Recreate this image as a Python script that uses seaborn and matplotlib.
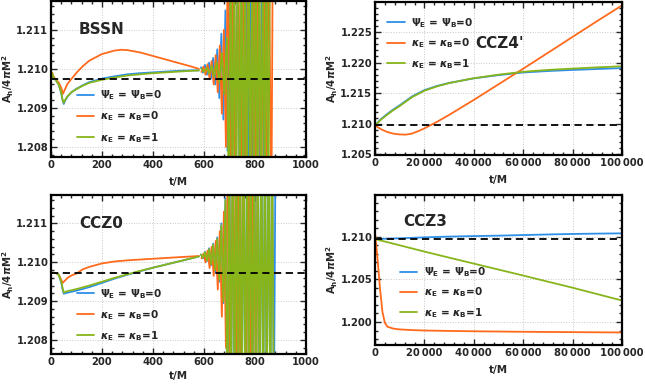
import matplotlib
matplotlib.use("Agg")
import matplotlib.pyplot as plt
from matplotlib.ticker import AutoMinorLocator, MultipleLocator
import seaborn as sns

# ---- data ----
A_REF = 1.20973  # dashed reference level

# BSSN (t/M 0..1000)
bssn_or_t = [0, 5, 10, 20, 30, 40, 47, 55, 65, 80, 100, 125, 150, 200, 250, 275, 300, 350, 400, 450, 500, 550, 580]
bssn_or_a = [1.20982, 1.20990, 1.20980, 1.20972, 1.20965, 1.20952, 1.20936, 1.20948, 1.20962, 1.20974, 1.20990,
             1.21007, 1.21021, 1.21038, 1.21047, 1.21049, 1.21048, 1.21042, 1.21033, 1.21024, 1.21015, 1.21006, 1.21000]
bssn_gr_t = [0, 5, 10, 20, 30, 40, 45, 50, 55, 65, 80, 100, 125, 150, 200, 250, 300, 350, 400, 450, 500, 550, 580]
bssn_gr_a = [1.20982, 1.20988, 1.20978, 1.20970, 1.20960, 1.20940, 1.20922, 1.20913, 1.20920, 1.20930, 1.20940,
             1.20948, 1.20957, 1.20964, 1.20972, 1.20978, 1.20983, 1.20986, 1.20989, 1.20991, 1.20993, 1.20995, 1.20996]
bssn_bl_a = [1.20982, 1.20988, 1.20978, 1.20970, 1.20960, 1.20938, 1.20920, 1.20910, 1.20918, 1.20929, 1.20940,
             1.20949, 1.20958, 1.20966, 1.20975, 1.20981, 1.20986, 1.20989, 1.20991, 1.20993, 1.20995, 1.20996, 1.20996]

bssn_bl_osc_t = [588, 596, 604, 612, 620, 628, 636, 644, 652, 660, 668, 676, 684, 692,
                 700, 708, 716, 724, 732, 740, 748, 756, 764, 772, 780, 788, 796, 804, 812, 820, 828, 836, 844, 852]
bssn_bl_osc_a = [1.21004, 1.20990, 1.21010, 1.20985, 1.21016, 1.20975, 1.21028, 1.20960, 1.21050, 1.20925,
                 1.21090, 1.20870, 1.21150, 1.20790,
                 1.2135, 1.2060, 1.2135, 1.2060, 1.2135, 1.2060, 1.2135, 1.2060, 1.2135, 1.2060,
                 1.2135, 1.2060, 1.2135, 1.2060, 1.2135, 1.2060, 1.2135, 1.2060, 1.2135, 1.2060]
bssn_or_osc_t = [590, 598, 606, 614, 622, 630, 638, 646, 654, 662, 670, 678, 686,
                 694, 704, 714, 724, 734, 744, 754, 764, 774, 784, 794, 804, 814, 824, 834, 844, 854, 864, 870]
bssn_or_osc_a = [1.20992, 1.21006, 1.20985, 1.21012, 1.20975, 1.21020, 1.20960, 1.21035, 1.20940, 1.21060,
                 1.20885, 1.21100, 1.20800,
                 1.2135, 1.2060, 1.2135, 1.2060, 1.2135, 1.2060, 1.2135, 1.2060, 1.2135, 1.2060,
                 1.2135, 1.2060, 1.2135, 1.2060, 1.2135, 1.2060, 1.2135, 1.2060, 1.2135]
bssn_gr_osc_t = [590, 600, 610, 620, 630, 640, 650, 660, 670, 680, 690,
                 698, 705, 712, 719, 726, 733, 740, 747, 754, 761, 768, 775, 782, 789, 796, 803, 810,
                 817, 824, 831, 838, 845, 852, 859]
bssn_gr_osc_a = [1.21000, 1.20992, 1.21003, 1.20988, 1.21008, 1.20980, 1.21018, 1.20965, 1.21040, 1.20935, 1.21080,
                 1.2060, 1.2135, 1.2060, 1.2135, 1.2060, 1.2135, 1.2060, 1.2135, 1.2060, 1.2135, 1.2060,
                 1.2135, 1.2060, 1.2135, 1.2060, 1.2135, 1.2060, 1.2135, 1.2060, 1.2135, 1.2060, 1.2135,
                 1.2060, 1.2135]

# CCZ0 (t/M 0..1000)
ccz0_or_t = [0, 10, 20, 30, 35, 40, 46, 55, 65, 80, 100, 125, 150, 200, 250, 300, 400, 500, 580]
ccz0_or_a = [1.20973, 1.20973, 1.20972, 1.20968, 1.20962, 1.20955, 1.20947, 1.20953, 1.20960, 1.20966, 1.20971,
             1.20982, 1.20988, 1.20997, 1.21002, 1.21005, 1.21009, 1.21013, 1.21016]
ccz0_gr_t = [0, 10, 20, 30, 40, 45, 50, 60, 100, 150, 200, 250, 300, 350, 400, 450, 500, 550, 580]
ccz0_gr_a = [1.20973, 1.20973, 1.20972, 1.20968, 1.20950, 1.20935, 1.20922, 1.20925, 1.20931, 1.20940, 1.20950,
             1.20960, 1.20969, 1.20978, 1.20986, 1.20994, 1.21002, 1.21010, 1.21015]
ccz0_bl_a = [1.20973, 1.20973, 1.20972, 1.20968, 1.20948, 1.20932, 1.20919, 1.20921, 1.20927, 1.20936, 1.20947,
             1.20958, 1.20968, 1.20977, 1.20986, 1.20994, 1.21002, 1.21010, 1.21015]

ccz0_gr_osc_t = [588, 596, 604, 612, 620, 628, 636, 644, 652, 660, 668, 676, 684,
                 692, 699, 706, 713, 720, 727, 734, 741, 748, 755, 762, 769, 776, 783, 790, 797, 804,
                 811, 818, 825, 832, 839, 846, 853, 860, 867, 874]
ccz0_gr_osc_a = [1.21020, 1.21012, 1.21026, 1.21005, 1.21034, 1.20995, 1.21045, 1.20980, 1.21060, 1.20955,
                 1.21095, 1.20900, 1.21160,
                 1.2060, 1.2135, 1.2060, 1.2135, 1.2060, 1.2135, 1.2060, 1.2135, 1.2060, 1.2135, 1.2060,
                 1.2135, 1.2060, 1.2135, 1.2060, 1.2135, 1.2060, 1.2135, 1.2060, 1.2135, 1.2060, 1.2135,
                 1.2060, 1.2135, 1.2060, 1.2135, 1.2060]
ccz0_bl_osc_t = [588, 596, 604, 612, 620, 628, 636, 644, 652, 660, 668, 676, 684,
                 692, 699, 706, 713, 720, 727, 734, 741, 748, 755, 762, 769, 776, 783, 790, 797, 804,
                 811, 818, 825, 832, 839, 846, 853, 860, 867, 874, 881]
ccz0_bl_osc_a = [1.21020, 1.21010, 1.21027, 1.21003, 1.21036, 1.20992, 1.21048, 1.20976, 1.21064, 1.20950,
                 1.21100, 1.20895, 1.21165,
                 1.2060, 1.2135, 1.2060, 1.2135, 1.2060, 1.2135, 1.2060, 1.2135, 1.2060, 1.2135, 1.2060,
                 1.2135, 1.2060, 1.2135, 1.2060, 1.2135, 1.2060, 1.2135, 1.2060, 1.2135, 1.2060, 1.2135,
                 1.2060, 1.2135, 1.2060, 1.2135, 1.2060, 1.2135]
ccz0_or_osc_t = [590, 598, 606, 614, 622, 630, 638, 646, 654, 662, 670, 678, 686,
                 694, 704, 714, 724, 734, 744, 754, 764, 774, 784, 794, 804, 812]
ccz0_or_osc_a = [1.21010, 1.21022, 1.21000, 1.21030, 1.20985, 1.21040, 1.20965, 1.21055, 1.20930, 1.21080,
                 1.20860, 1.21130, 1.20780,
                 1.2135, 1.2060, 1.2135, 1.2060, 1.2135, 1.2060, 1.2135, 1.2060, 1.2135, 1.2060,
                 1.2135, 1.2060, 1.2135]

# CCZ4' (t/M 0..100000)
ccz4_or_t = [0, 2500, 5000, 7500, 10000, 12500, 15000, 17500, 20000, 25000, 30000, 40000, 50000,
             60000, 70000, 80000, 90000, 100000]
ccz4_or_a = [1.20973, 1.20910, 1.20865, 1.20838, 1.20826, 1.20823, 1.20840, 1.20880, 1.20925, 1.21030,
             1.21145, 1.21390, 1.21645, 1.21900, 1.22160, 1.22420, 1.22680, 1.22935]
ccz4_t = [0, 2500, 5000, 7500, 10000, 15000, 20000, 25000, 30000, 40000, 50000, 60000, 70000, 80000,
          90000, 100000]
ccz4_gr_a = [1.20973, 1.21070, 1.21150, 1.21225, 1.21290, 1.21435, 1.21540, 1.21610, 1.21665, 1.21745,
             1.21803, 1.21850, 1.21880, 1.21902, 1.21922, 1.21940]
ccz4_bl_a = [1.20973, 1.21080, 1.21162, 1.21237, 1.21302, 1.21447, 1.21550, 1.21617, 1.21668, 1.21742,
             1.21795, 1.21838, 1.21862, 1.21880, 1.21895, 1.21910]

# CCZ3 (t/M 0..100000)
ccz3_or_t = [0, 1000, 2000, 3000, 4000, 5000, 7500, 10000, 15000, 20000, 30000, 40000, 50000, 60000,
             70000, 80000, 90000, 100000]
ccz3_or_a = [1.21050, 1.20750, 1.20400, 1.20120, 1.19990, 1.19945, 1.19922, 1.19913, 1.19905, 1.19900,
             1.19895, 1.19891, 1.19888, 1.19885, 1.19883, 1.19881, 1.19879, 1.19877]
ccz3_t = [0, 10000, 20000, 30000, 40000, 50000, 60000, 70000, 80000, 90000, 100000]
ccz3_gr_a = [1.20973, 1.20900, 1.20826, 1.20755, 1.20685, 1.20615, 1.20545, 1.20473, 1.20402, 1.20327, 1.20252]
ccz3_bl_a = [1.20973, 1.20982, 1.20993, 1.21002, 1.21008, 1.21013, 1.21020, 1.21027, 1.21033, 1.21037, 1.21040]

BLUE = "#2E8FE8"
ORANGE = "#FF6A1C"
GREEN = "#88B51A"

LAB_PSI = r"$\Psi_\mathrm{E}$ = $\Psi_\mathrm{B}$=0"
LAB_K0 = r"$\kappa_\mathrm{E}$ = $\kappa_\mathrm{B}$=0"
LAB_K1 = r"$\kappa_\mathrm{E}$ = $\kappa_\mathrm{B}$=1"

big_xticks = [0, 20000, 40000, 60000, 80000, 100000]
big_xlabels = ["0", "20\u2009000", "40\u2009000", "60\u2009000", "80\u2009000", "100\u2009000"]

# ---- style ----
sns.set_theme(style="ticks")
plt.rcParams["font.family"] = ["DejaVu Sans"]
plt.rcParams["font.weight"] = "bold"
plt.rcParams["mathtext.fontset"] = "custom"
plt.rcParams["mathtext.rm"] = "DejaVu Sans:bold"
plt.rcParams["mathtext.it"] = "DejaVu Sans:bold:italic"
plt.rcParams["mathtext.bf"] = "DejaVu Sans:bold"

fig = plt.figure(figsize=(6.45, 3.85), dpi=100)
ax_tl = fig.add_axes([51 / 645, 1 - 157 / 385, 255 / 645, 156 / 385])
ax_tr = fig.add_axes([375 / 645, 1 - 155 / 385, 247 / 645, 153 / 385])
ax_bl = fig.add_axes([51 / 645, 1 - 354 / 385, 255 / 645, 159 / 385])
ax_br = fig.add_axes([375 / 645, 1 - 345 / 385, 247 / 645, 150 / 385])

LW = 1.3


def line(ax, t, a, color, label=None):
    sns.lineplot(x=t, y=a, color=color, lw=LW, ax=ax, estimator=None, sort=False,
                 label=label, legend=False)


def frame(ax, xlim, ylim, xmaj, ymaj, xpad=5):
    ax.set_xlim(*xlim)
    ax.set_ylim(*ylim)
    ax.xaxis.set_major_locator(MultipleLocator(xmaj))
    ax.yaxis.set_major_locator(MultipleLocator(ymaj))
    ax.xaxis.set_minor_locator(AutoMinorLocator(5))
    ax.yaxis.set_minor_locator(AutoMinorLocator(5))
    ax.tick_params(which="both", direction="in", top=True, right=True, width=1.0,
                   labelsize=7.2, pad=2)
    ax.tick_params(which="major", length=4)
    ax.tick_params(which="minor", length=2)
    for s in ax.spines.values():
        s.set_linewidth(1.6)
        s.set_color("black")
    ax.grid(True, which="major", ls=":", lw=0.7, color="#c8c8c8")
    ax.axhline(A_REF, color="black", ls=(0, (4, 2.5)), lw=1.3, zorder=5)
    ax.yaxis.set_major_formatter(matplotlib.ticker.FormatStrFormatter("%.3f"))
    ax.set_xlabel("t/M", fontsize=7.5, fontweight="bold", labelpad=xpad)
    ax.set_ylabel(r"A$_\mathrm{h}$/4$\pi$M$^\mathrm{2}$", fontsize=7.3, fontweight="bold", labelpad=0.3)
    for lab in ax.get_xticklabels() + ax.get_yticklabels():
        lab.set_fontweight("bold")


def legend(ax, anchor, loc, spacing=0.75):
    ax.legend(loc=loc, bbox_to_anchor=anchor, frameon=False, fontsize=7.5,
              handlelength=1.7, handletextpad=0.6, labelspacing=spacing, borderpad=0, borderaxespad=0)


# BSSN
line(ax_tl, bssn_gr_t, bssn_bl_a, BLUE, LAB_PSI)
line(ax_tl, bssn_bl_osc_t, bssn_bl_osc_a, BLUE)
line(ax_tl, bssn_or_t, bssn_or_a, ORANGE, LAB_K0)
line(ax_tl, bssn_or_osc_t, bssn_or_osc_a, ORANGE)
line(ax_tl, bssn_gr_t, bssn_gr_a, GREEN, LAB_K1)
line(ax_tl, bssn_gr_osc_t, bssn_gr_osc_a, GREEN)
frame(ax_tl, (0, 1000), (1.20774, 1.21174), 200, 0.001)
legend(ax_tl, (0.10, 0.08), "lower left", 0.7)
ax_tl.text(0.2, 0.82, "BSSN", transform=ax_tl.transAxes, fontsize=11, fontweight="bold",
           ha="center", va="center")

# CCZ4'
line(ax_tr, ccz4_t, ccz4_bl_a, BLUE, LAB_PSI)
line(ax_tr, ccz4_or_t, ccz4_or_a, ORANGE, LAB_K0)
line(ax_tr, ccz4_t, ccz4_gr_a, GREEN, LAB_K1)
frame(ax_tr, (0, 100000), (1.2049, 1.2299), 20000, 0.005)
ax_tr.set_xticks(big_xticks, big_xlabels)
legend(ax_tr, (0.05, 0.91), "upper left", 0.65)
ax_tr.text(0.504, 0.73, "CCZ4'", transform=ax_tr.transAxes, fontsize=11, fontweight="bold",
           ha="center", va="center")

# CCZ0
line(ax_bl, ccz0_gr_t, ccz0_bl_a, BLUE, LAB_PSI)
line(ax_bl, ccz0_bl_osc_t, ccz0_bl_osc_a, BLUE)
line(ax_bl, ccz0_or_t, ccz0_or_a, ORANGE, LAB_K0)
line(ax_bl, ccz0_or_osc_t, ccz0_or_osc_a, ORANGE)
line(ax_bl, ccz0_gr_t, ccz0_gr_a, GREEN, LAB_K1)
line(ax_bl, ccz0_gr_osc_t, ccz0_gr_osc_a, GREEN)
frame(ax_bl, (0, 1000), (1.20764, 1.21173), 200, 0.001, xpad=3)
legend(ax_bl, (0.10, 0.07), "lower left", 0.7)
ax_bl.text(0.198, 0.82, "CCZ0", transform=ax_bl.transAxes, fontsize=11, fontweight="bold",
           ha="center", va="center")

# CCZ3
line(ax_br, ccz3_t, ccz3_bl_a, BLUE, LAB_PSI)
line(ax_br, ccz3_or_t, ccz3_or_a, ORANGE, LAB_K0)
line(ax_br, ccz3_t, ccz3_gr_a, GREEN, LAB_K1)
frame(ax_br, (0, 100000), (1.1973, 1.2149), 20000, 0.005)
ax_br.set_xticks(big_xticks, big_xlabels)
legend(ax_br, (0.10, 0.17), "lower left", 0.6)
ax_br.text(0.204, 0.822, "CCZ3", transform=ax_br.transAxes, fontsize=11, fontweight="bold",
           ha="center", va="center")

for ax in (ax_tr, ax_br):
    for lab in ax.get_xticklabels():
        lab.set_fontweight("bold")

fig.savefig("out.png", dpi=100)
